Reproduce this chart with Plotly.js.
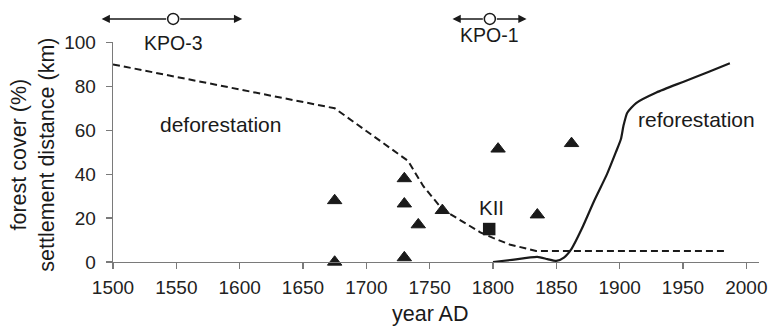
<!DOCTYPE html>
<html>
<head>
<meta charset="utf-8">
<script src="https://cdn.plot.ly/plotly-3.0.1.min.js"></script>
<style>html,body{margin:0;padding:0;background:#fff;}#chart{width:771px;height:328px;}</style>
</head>
<body>
<div id="chart"></div>
<script>
// Forest cover (dashed) reconstruction
var forestYears = [1500, 1675, 1733, 1745, 1760, 1774, 1790, 1800, 1813, 1834, 1985];
var forestCover = [90, 70, 46, 34.5, 24, 19, 13.5, 11, 8, 5, 5];
// Reforestation (solid)
var reforYears = [1800, 1815, 1835, 1843, 1850, 1856, 1862, 1870, 1880, 1890, 1897, 1901, 1903, 1906, 1913, 1929, 1950, 1970, 1987];
var reforCover = [0, 1, 2.3, 1.3, 0.5, 2, 6, 15, 28, 40, 50, 56, 62, 68, 72.4, 77.2, 82, 86.5, 90.5];
// Settlement distances (triangles)
var settleYears = [1675, 1675, 1730, 1730, 1730, 1741, 1760, 1804, 1835, 1862];
var settleDist = [28, 0, 38, 26.5, 2, 17, 23.5, 51.5, 21.5, 54];
// KII site (square)
var kiiYears = [1797];
var kiiDist = [15];
// KPO dates with ranges
var kpoNames = ["KPO-3", "KPO-1"];
var kpoYears = [1547.5, 1797.5];
var kpoLow = [1491, 1768];
var kpoHigh = [1602, 1826.5];
var kpoLevel = 110.7;
var kpoLabelY = [99.6, 103.4];

var font = 'Liberation Sans, Arial, Helvetica, sans-serif';
var ink = '#1a1a1a';

// plot geometry: y axis (0-100) occupies the lower part of the plot area, y2 spans it all
var marginT = 10, marginB = 66, H = 328;
var yFrac = 219.6 / (H - marginT - marginB);
var y2Top = 100 / yFrac;

var traces = [
  {x: forestYears, y: forestCover, mode: 'lines', type: 'scatter',
   line: {color: ink, width: 2, dash: '7px,4px'}, hoverinfo: 'skip', cliponaxis: false},
  {x: reforYears, y: reforCover, mode: 'lines', type: 'scatter',
   line: {color: ink, width: 2.2, shape: 'spline', smoothing: 0.6}, hoverinfo: 'skip', cliponaxis: false},
  {x: settleYears, y: settleDist, mode: 'markers', type: 'scatter',
   marker: {symbol: 'triangle-up', size: 12.5, color: ink, line: {color: ink, width: 1}}, cliponaxis: false},
  {x: kiiYears, y: kiiDist, mode: 'markers', type: 'scatter',
   marker: {symbol: 'square', size: 12.5, color: ink}, cliponaxis: false},
  {x: kpoYears, y: kpoYears.map(function(){return kpoLevel;}), yaxis: 'y2', mode: 'markers', type: 'scatter',
   marker: {symbol: 'circle', size: 11, color: '#fff', line: {color: ink, width: 1.5}}, cliponaxis: false}
];

var annotations = [
  {text: 'deforestation', x: 1584.5, y: 62.5, xref: 'x', yref: 'y', showarrow: false, font: {size: 21, color: ink, family: font}},
  {text: 'reforestation', x: 1960.5, y: 64.8, xref: 'x', yref: 'y', showarrow: false, font: {size: 21, color: ink, family: font}},
  {text: 'KII', x: 1799, y: 25, xref: 'x', yref: 'y', showarrow: false, font: {size: 20.5, color: ink, family: font}},
  {text: 'forest cover (%)<br>settlement distance (km)', textangle: -90, x: -0.1233, y: 0.49 * yFrac, xref: 'paper', yref: 'paper',
   xanchor: 'center', yanchor: 'middle', showarrow: false, font: {size: 21.5, color: ink, family: font}},
  {text: 'year AD', x: 0.49, y: -0.235 * yFrac, xref: 'paper', yref: 'paper', xanchor: 'center', yanchor: 'middle',
   showarrow: false, font: {size: 21.5, color: ink, family: font}}
];
for (var i = 0; i < kpoNames.length; i++) {
  annotations.push({text: kpoNames[i], x: kpoYears[i], y: kpoLabelY[i], xref: 'x', yref: 'y2', showarrow: false,
    font: {size: 19.5, color: ink, family: font}});
  [kpoLow[i], kpoHigh[i]].forEach(function(tip) {
    annotations.push({text: '', x: tip, y: kpoLevel, ax: kpoYears[i], ay: kpoLevel, xref: 'x', yref: 'y2',
      axref: 'x', ayref: 'y2', showarrow: true, arrowhead: 2, arrowsize: 1.1, arrowwidth: 1.5, arrowcolor: ink,
      standoff: 0, startstandoff: 5.5});
  });
}

var axisCommon = {
  showline: true, linecolor: '#7a7a7a', linewidth: 1.3, ticks: 'outside', tickcolor: '#7a7a7a', ticklen: 6,
  tickwidth: 1.3, showgrid: false, zeroline: false, tickfont: {size: 19, color: '#222', family: font}
};

var layout = {
  width: 771, height: 328,
  margin: {l: 113, r: 12, t: marginT, b: marginB},
  paper_bgcolor: '#fff', plot_bgcolor: 'rgba(0,0,0,0)',
  showlegend: false,
  font: {family: font, color: ink},
  xaxis: Object.assign({}, axisCommon, {range: [1500, 2010], tick0: 1500, dtick: 50, ticklabelstandoff: 2}),
  yaxis: Object.assign({}, axisCommon, {range: [0, 100], tick0: 0, dtick: 20, ticklabelstandoff: 6, domain: [0, yFrac]}),
  yaxis2: {anchor: 'x', range: [0, y2Top], domain: [0, 1], visible: false, showgrid: false, zeroline: false},
  annotations: annotations
};

Plotly.newPlot('chart', traces, layout, {staticPlot: true, displayModeBar: false});
</script>
</body>
</html>
